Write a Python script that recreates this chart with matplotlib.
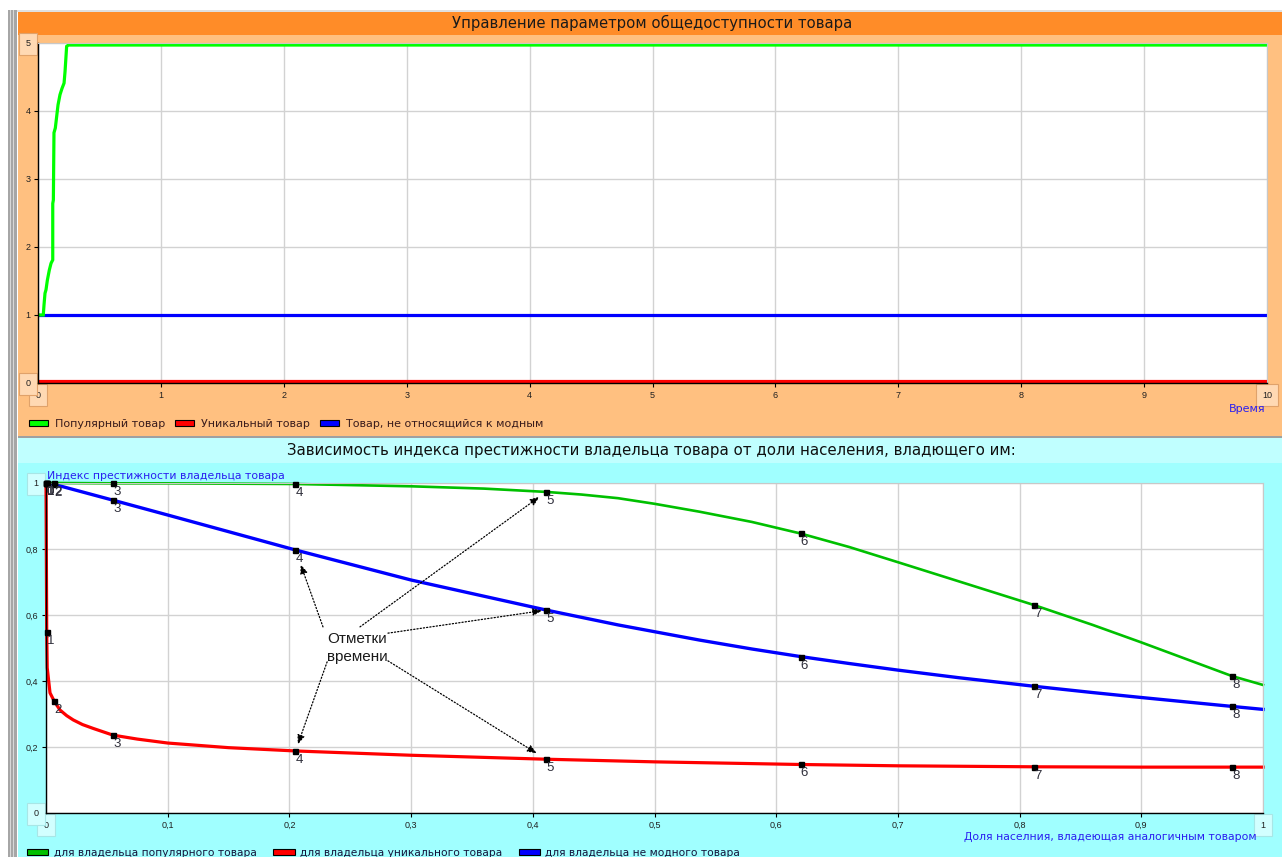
import matplotlib
matplotlib.use("Agg")
import matplotlib.pyplot as plt
from matplotlib.patches import Rectangle, Patch
from matplotlib import transforms

W, H, DPI = 1282, 857, 100

# ---- upper chart: availability parameter over time ----
time_popular = [0.0, 0.043, 0.049, 0.057, 0.065, 0.076, 0.092, 0.106, 0.120, 0.120,
                0.125, 0.130, 0.141, 0.152, 0.163, 0.179, 0.195, 0.212, 0.220, 0.233,
                0.247, 10.0]
param_popular = [1.0, 1.0, 1.15, 1.32, 1.37, 1.51, 1.66, 1.76, 1.81, 2.64,
                 2.69, 3.68, 3.75, 3.92, 4.09, 4.24, 4.33, 4.41, 4.58, 4.95,
                 4.97, 4.97]
time_unique = [0.0, 10.0]
param_unique = [0.0, 0.0]
time_plain = [0.0, 10.0]
param_plain = [1.0, 1.0]
top_xticks = list(range(0, 11))
top_yticks = list(range(0, 6))

# ---- lower chart: prestige index vs. share of owners ----
share_popular = [0.0, 0.0066, 0.055, 0.10, 0.15, 0.205, 0.30, 0.36, 0.411, 0.44,
                 0.47, 0.50, 0.537, 0.58, 0.62, 0.66, 0.70, 0.75, 0.812, 0.86,
                 0.90, 0.9745, 1.0]
prestige_popular = [1.0, 1.0, 0.999, 0.999, 0.998, 0.997, 0.990, 0.983, 0.973, 0.965,
                    0.954, 0.937, 0.913, 0.882, 0.847, 0.806, 0.760, 0.702, 0.630, 0.570,
                    0.517, 0.415, 0.388]
share_unique = [0.0, 0.0006, 0.0010, 0.0033, 0.0066, 0.0115, 0.017, 0.0224, 0.030,
                0.039, 0.055, 0.075, 0.10, 0.15, 0.205, 0.30, 0.411, 0.50, 0.62,
                0.70, 0.812, 0.90, 0.9745, 1.0]
prestige_unique = [1.0, 0.548, 0.44, 0.364, 0.340, 0.312, 0.295, 0.282, 0.268,
                   0.256, 0.236, 0.224, 0.212, 0.198, 0.188, 0.175, 0.163, 0.155, 0.147,
                   0.143, 0.140, 0.139, 0.139, 0.139]
share_plain = [0.0, 0.0066, 0.055, 0.10, 0.205, 0.30, 0.411, 0.47, 0.537, 0.58,
               0.62, 0.66, 0.70, 0.75, 0.812, 0.86, 0.90, 0.9745, 1.0]
prestige_plain = [1.0, 0.996, 0.948, 0.903, 0.797, 0.706, 0.615, 0.570, 0.524, 0.497,
                  0.474, 0.453, 0.433, 0.410, 0.384, 0.365, 0.350, 0.323, 0.314]

# time marks 0..8 along each curve
mark_labels = ["0", "1", "2", "3", "4", "5", "6", "7", "8"]
mark_share = [0.0, 0.0006, 0.0066, 0.055, 0.205, 0.411, 0.620, 0.812, 0.9745]
mark_popular = [1.0, 1.0, 1.0, 0.999, 0.997, 0.973, 0.847, 0.630, 0.415]
mark_unique = [1.0, 0.548, 0.340, 0.236, 0.188, 0.163, 0.147, 0.140, 0.139]
mark_plain = [1.0, 1.0, 0.996, 0.948, 0.797, 0.615, 0.474, 0.384, 0.323]

bottom_xticks = [0.0, 0.1, 0.2, 0.3, 0.4, 0.5, 0.6, 0.7, 0.8, 0.9, 1.0]
bottom_yticks = [0.0, 0.2, 0.4, 0.6, 0.8, 1.0]

top_title = "Управление параметром общедоступности товара"
bottom_title = "Зависимость индекса престижности владельца товара от доли населения, владющего им:"
top_series = ["Популярный товар", "Уникальный товар", "Товар, не относящийся к модным"]
bottom_series = ["для владельца популярного товара", "для владельца уникального товара",
                 "для владельца не модного товара"]

UI_FONT = ["DejaVu Sans"]
ARIAL = ["Liberation Sans", "DejaVu Sans"]

fig = plt.figure(figsize=(W / DPI, H / DPI), dpi=DPI)
fig.patch.set_facecolor("white")


def rect(x0, y0, x1, y1, color):
    fig.add_artist(Rectangle((x0 / W, 1 - y1 / H), (x1 - x0) / W, (y1 - y0) / H,
                             transform=fig.transFigure, facecolor=color,
                             edgecolor="none", zorder=-5))


def ftext(x, y, s, **kw):
    fig.text(x / W, 1 - y / H, s, **kw)


# window chrome
rect(8, 10, 17, H, "#A6A6A6")
rect(10, 10, 11, H, "#D8D8D8")
rect(13, 10, 14, H, "#D8D8D8")
rect(17, 10, W, 12, "#E0E0E0")
rect(18, 12, W, 35, "#FF8C28")
rect(18, 35, W, 436, "#FFC080")
rect(18, 436, W, 438, "#A0A0A0")
rect(18, 438, W, 463, "#C0FFFF")
rect(18, 463, W, H, "#A0FFFF")

ftext(652, 23, top_title, ha="center", va="center", fontsize=10.7,
      family=UI_FONT, color="#1A1A1A")
ftext(651, 451, bottom_title, ha="center", va="center", fontsize=10.85,
      family=UI_FONT, color="#101010")


def style_axes(ax, box_fc, box_ec):
    ax.set_facecolor("white")
    ax.grid(True, color="#D2D2D2", lw=1)
    ax.set_axisbelow(True)
    for side in ("top", "right"):
        ax.spines[side].set_color("#C8C8C8")
    for side in ("left", "bottom"):
        ax.spines[side].set_color("black")
        ax.spines[side].set_linewidth(1.0)
    ax.tick_params(labelsize=6.5, length=3, width=0.8, pad=2.5, colors="black")
    for lab in ax.get_xticklabels() + ax.get_yticklabels():
        lab.set_family(ARIAL)
        lab.set_color("#202020")
    fig.canvas.draw()
    ends = [ax.get_xticklabels()[0], ax.get_xticklabels()[-1],
            ax.get_yticklabels()[0], ax.get_yticklabels()[-1]]
    for lab in ends:
        lab.set_bbox(dict(boxstyle="square,pad=0.7", fc=box_fc, ec=box_ec, lw=0.8))


# ---- upper axes ----
ax1 = fig.add_axes([38 / W, 1 - 383 / H, (1267 - 38) / W, (383 - 43) / H])
ax1.set_xlim(0, 10)
ax1.set_ylim(0, 5)
ax1.set_xticks(top_xticks)
ax1.set_yticks(top_yticks)
ax1.set_xticklabels([str(v) for v in top_xticks])
ax1.set_yticklabels([str(v) for v in top_yticks])
lift = ax1.transData + transforms.ScaledTranslation(0, 2 / DPI, fig.dpi_scale_trans)
ax1.plot(time_unique, param_unique, color="#FF0000", lw=2.3, transform=lift,
         solid_capstyle="butt")
ax1.plot(time_plain, param_plain, color="#0000FF", lw=2.3, solid_capstyle="butt")
ax1.plot(time_popular, param_popular, color="#00FF00", lw=2.3,
         solid_capstyle="butt", solid_joinstyle="miter")
style_axes(ax1, "#FFD9B3", "#E0A26A")

ftext(1266, 409, "Время", ha="right", va="center", fontsize=8, family=UI_FONT,
      color="#2A1EF0")

top_handles = [Patch(fc=c, ec="black", lw=0.8, label=l)
               for c, l in zip(["#00FF00", "#FF0000", "#0000FF"], top_series)]
fig.legend(handles=top_handles, loc="center left", bbox_to_anchor=(29 / W, 1 - 424 / H),
           ncol=3, frameon=False, prop={"family": UI_FONT, "size": 8},
           handlelength=1.7, handleheight=0.55, handletextpad=0.6,
           columnspacing=0.95, borderpad=0, borderaxespad=0, labelcolor="#3A1C1C")

# ---- lower axes ----
ax2 = fig.add_axes([46 / W, 1 - 813 / H, (1263 - 46) / W, (813 - 483) / H])
ax2.set_xlim(0, 1)
ax2.set_ylim(0, 1)
ax2.set_xticks(bottom_xticks)
ax2.set_yticks(bottom_yticks)
ax2.set_xticklabels([("%g" % v).replace(".", ",") for v in bottom_xticks])
ax2.set_yticklabels([("%g" % v).replace(".", ",") for v in bottom_yticks])
ax2.plot(share_unique, prestige_unique, color="#FF0000", lw=2.3, clip_on=False)
ax2.plot(share_plain, prestige_plain, color="#0000FF", lw=2.4, clip_on=False)
ax2.plot(share_popular, prestige_popular, color="#00C000", lw=1.9, clip_on=False)

for ys in (mark_popular, mark_plain, mark_unique):
    ax2.plot(mark_share, ys, linestyle="none", marker="s", ms=3.6, color="black",
             clip_on=False, zorder=4)
    for lab, x, y in zip(mark_labels, mark_share, ys):
        ax2.annotate(lab, (x, y), xytext=(4, -9), textcoords="offset pixels",
                     ha="center", va="center", fontsize=9.5, family=ARIAL,
                     color="#2E2E3A", zorder=5, annotation_clip=False)

ax2.text(0.231, 0.50, "Отметки\nвремени", ha="left", va="center", fontsize=11,
         family=ARIAL, color="#1A1A1A", linespacing=1.3, zorder=6)
arrow_targets = [
    ((0.2276, 0.564), (mark_share[4], mark_plain[4]), 11),
    ((0.258, 0.564), (mark_share[5], mark_popular[5]), 6),
    ((0.281, 0.545), (mark_share[5], mark_plain[5]), 3),
    ((0.231, 0.458), (mark_share[4], mark_unique[4]), 5),
    ((0.281, 0.461), (mark_share[5], mark_unique[5]), 8),
]
for start, end, shrink in arrow_targets:
    ax2.annotate("", xy=end, xytext=start,
                 arrowprops=dict(arrowstyle="-|>,head_length=0.55,head_width=0.22",
                                 linestyle=(0, (1, 1.6)), color="black", lw=0.9,
                                 shrinkA=0, shrinkB=shrink), zorder=6)

style_axes(ax2, "#D2FFFF", "#A8E6E6")

ftext(47, 476, "Индекс престижности владельца товара", ha="left", va="center",
      fontsize=7.8, family=UI_FONT, color="#2A1EF0")
ftext(1257, 837, "Доля населния, владеющая аналогичным товаром", ha="right",
      va="center", fontsize=7.8, family=UI_FONT, color="#2A1EF0")

bottom_handles = [Patch(fc=c, ec="black", lw=0.8, label=l)
                  for c, l in zip(["#00C000", "#FF0000", "#0000FF"], bottom_series)]
fig.legend(handles=bottom_handles, loc="center left", bbox_to_anchor=(27 / W, 1 - 853 / H),
           ncol=3, frameon=False, prop={"family": UI_FONT, "size": 7.7},
           handlelength=2.0, handleheight=0.55, handletextpad=0.5,
           columnspacing=1.55, borderpad=0, borderaxespad=0, labelcolor="#14143A")

fig.savefig("out.png", dpi=DPI, facecolor=fig.get_facecolor())
